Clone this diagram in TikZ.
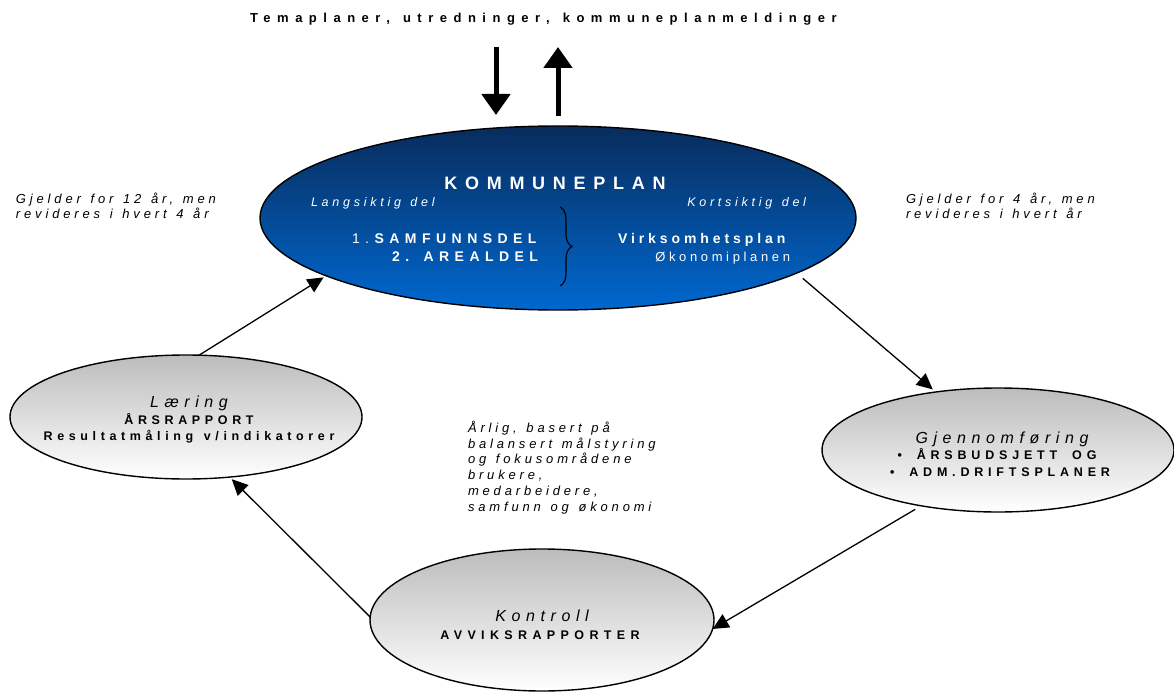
\documentclass[tikz,border=0pt]{standalone}
\usepackage{fontspec}
\setmainfont{Liberation Sans}
\newfontfamily\lsTitle[LetterSpace=50,WordSpace=1.3]{Liberation Sans}
\newfontfamily\lsK[LetterSpace=43]{Liberation Sans}
\newfontfamily\lsB[LetterSpace=38.5,WordSpace=1.8]{Liberation Sans}
\newfontfamily\lsR[LetterSpace=37,WordSpace=1.3]{Liberation Sans}
\newfontfamily\lsAv[LetterSpace=43]{Liberation Sans}
\newfontfamily\lsI[LetterSpace=35]{Liberation Sans}
\newfontfamily\lsS[LetterSpace=29.5,WordSpace=1.3]{Liberation Sans}
\newfontfamily\lsL[LetterSpace=30,WordSpace=1.3]{Liberation Sans}
\newfontfamily\lsV[LetterSpace=28]{Liberation Sans}
\newfontfamily\lsN[LetterSpace=39,WordSpace=1.2]{Liberation Sans}
\usetikzlibrary{shapes.geometric,arrows.meta,decorations.pathreplacing}
\definecolor{komtop}{RGB}{8,44,92}
\definecolor{kombot}{RGB}{0,104,208}
\definecolor{greytop}{RGB}{188,188,188}
\tikzset{
  ell/.style={ellipse, draw=black, line width=1.4pt, inner sep=0pt, outer sep=0pt},
  blueell/.style={ell, top color=komtop, bottom color=kombot},
  greyell/.style={ell, top color=greytop, bottom color=white},
  txt/.style={inner sep=0pt, outer sep=0pt, anchor=base},
  txtl/.style={txt, anchor=base west},
  txtr/.style={txt, anchor=base east},
  wtxt/.style={text=white},
  conn/.style={draw=black, line width=1.3pt, -{Triangle[length=16pt,width=15pt]}},
  bigarrow/.style={draw=black, line width=5pt, -{Triangle[length=21pt,width=28pt]}},
  bracestyle/.style={draw=black, line width=1.1pt, decorate, decoration={brace, amplitude=12pt, aspect=0.5}},
  fI/.style={font=\lsI\fontsize{16}{18}\selectfont\itshape},
  fB/.style={font=\lsB\fontsize{12.5}{14}\selectfont\bfseries},
  fR/.style={font=\lsR\fontsize{12.5}{14}\selectfont\bfseries},
  fS/.style={font=\lsS\fontsize{13}{15}\selectfont\itshape}
}
\begin{document}
\begin{tikzpicture}[x=1pt,y=-1pt]
\useasboundingbox (0,0) rectangle (1174,692);
\fill[white] (0,0) rectangle (1174,692);

% title and top arrows
\node[txtl, font=\lsTitle\fontsize{13}{15}\selectfont\bfseries] (title) at (250,23) {Temaplaner, utredninger, kommuneplanmeldinger};
\coordinate (dA) at (496,47);
\coordinate (dB) at (496,115);
\coordinate (uA) at (558,116);
\coordinate (uB) at (558,47);
\draw[bigarrow] (dA) -- (dB);
\draw[bigarrow] (uA) -- (uB);

% ellipses
\node[blueell, minimum width=596pt, minimum height=184pt] (kom) at (558,218) {};
\node[greyell, minimum width=352pt, minimum height=124pt] (lar) at (186,417) {};
\node[greyell, minimum width=352pt, minimum height=124pt] (gje) at (998,450) {};
\node[greyell, minimum width=344pt, minimum height=142pt] (kon) at (542,620) {};

% kommuneplan texts
\node[txt, wtxt, font=\lsK\fontsize{18}{20}\selectfont\bfseries] (komT) at (555,190) {KOMMUNEPLAN};
\node[txtl, wtxt, font=\lsL\fontsize{12.5}{15}\selectfont\itshape] (lang) at (311,207) {Langsiktig del};
\node[txtr, wtxt, font=\lsL\fontsize{12.5}{15}\selectfont\itshape] (kort) at (806,207) {Kortsiktig del};
\node[txtr, wtxt, font=\lsN\fontsize{14}{16}\selectfont] (samf) at (542,244) {1.\textbf{SAMFUNNSDEL}};
\node[txtr, wtxt, font=\lsN\fontsize{14}{16}\selectfont\bfseries] (areal) at (538,262) {2. AREALDEL};
\node[txtl, wtxt, font=\lsV\fontsize{14}{16}\selectfont\bfseries] (virk) at (618,244) {Virksomhetsplan};
\node[txtr, wtxt, font=\lsV\fontsize{13}{16}\selectfont] (okon) at (790,262) {Økonomiplanen};
\coordinate (brA) at (560,207);
\coordinate (brB) at (560,286);
\draw[bracestyle] (brA) -- (brB);

% laering texts
\node[txt, fI] (larA) at (189,407) {Læring};
\node[txt, fR] (larB) at (189,424) {ÅRSRAPPORT};
\node[txt, fR] (larC) at (189,440) {Resultatmåling v/indikatorer};

% gjennomforing texts
\node[txt, fI] (gjeA) at (1002,443) {Gjennomføring};
\node[txt, fB] (gjeB) at (997,459) {• ÅRSBUDSJETT OG};
\node[txt, fB] (gjeC) at (1000,476) {• ADM.DRIFTSPLANER};

% kontroll texts
\node[txt, fI] (konA) at (542,621) {Kontroll};
\node[txt, font=\lsAv\fontsize{12.5}{14}\selectfont\bfseries] (konB) at (540,639) {AVVIKSRAPPORTER};

% side texts
\node[txtl, fS] (l1) at (16,204) {Gjelder for 12 år, men};
\node[txtl, fS] (l2) at (16,219) {revideres i hvert 4 år};
\node[txtl, fS] (r1) at (906,204) {Gjelder for 4 år, men};
\node[txtl, fS] (r2) at (906,219) {revideres i hvert år};

\node[txtl, fS] (m1) at (468,432) {Årlig, basert på};
\node[txtl, fS] (m2) at (468,448) {balansert målstyring};
\node[txtl, fS] (m3) at (468,463.5) {og fokusområdene};
\node[txtl, fS] (m4) at (468,479) {brukere,};
\node[txtl, fS] (m5) at (468,495) {medarbeidere,};
\node[txtl, fS] (m6) at (468,511) {samfunn og økonomi};

% connectors
\draw[conn, shorten >=3pt] (lar.78) -- (kom.194.5);
\draw[conn, shorten <=8pt, shorten >=4pt] (kom.347) -- (gje.137);
\draw[conn, shorten <=7pt] (gje.216) -- (kon.357.4);
\draw[conn, shorten >=3pt] (kon.179) -- (lar.306);
\end{tikzpicture}
\end{document}
